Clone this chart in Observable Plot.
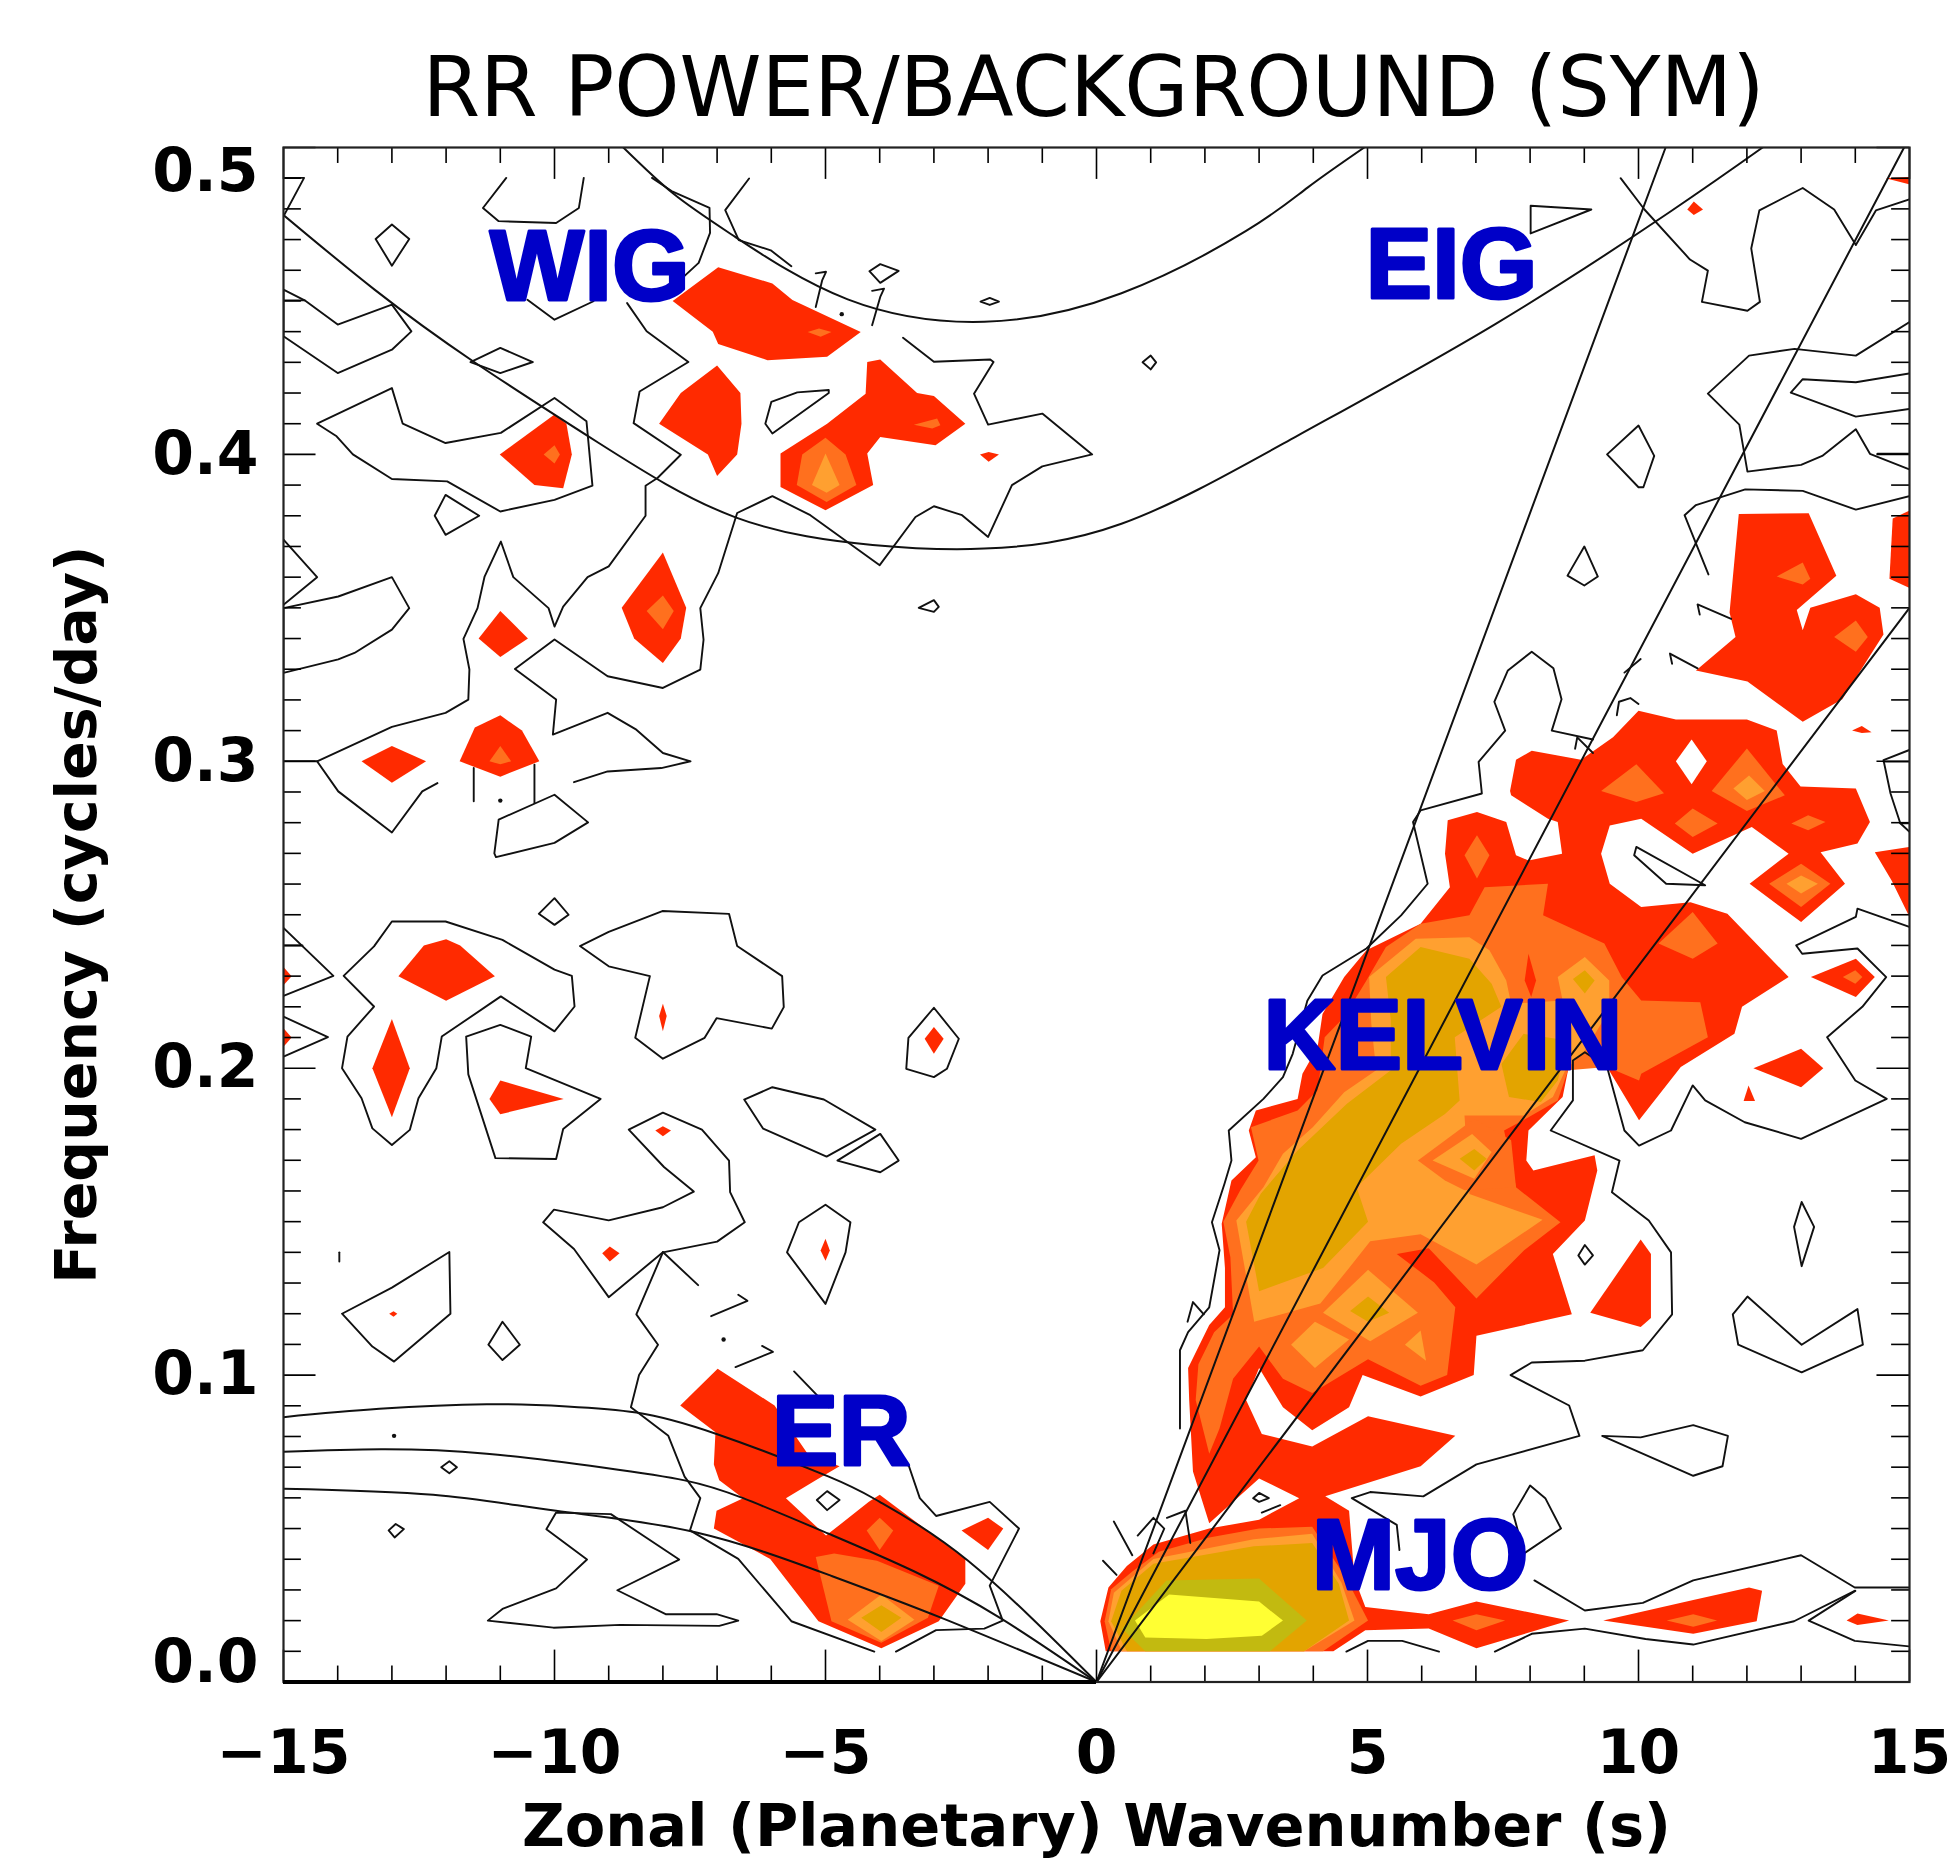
<!DOCTYPE html>
<html>
<head>
<meta charset="utf-8">
<script src="https://cdn.jsdelivr.net/npm/d3@7"></script>
<script src="https://cdn.jsdelivr.net/npm/@observablehq/plot@0.6"></script>
<style>
html,body{margin:0;padding:0;background:#fff}
#title{box-sizing:border-box;height:130px;padding-top:46px;padding-left:234px;width:1953px;text-align:center;font:400 83px/1 "DejaVu Sans";color:#000;white-space:nowrap}
svg{display:block}
</style>
</head>
<body>
<div id="title"></div>
<div id="chart"></div>
<script>
const titleText = "RR POWER/BACKGROUND (SYM)";
const xLabel = "Zonal (Planetary) Wavenumber (s)";
const yLabel = "Frequency (cycles/day)";
const xMajor = [-15,-10,-5,0,5,10,15];
const yMajor = [0,0.1,0.2,0.3,0.4,0.5];
const xMinor = d3.range(-15,16).filter(d => d % 5 !== 0);
const yMinor = d3.range(0,51).filter(d => d % 10 !== 0).map(d => d/100);

const bandLabels = [
  {t:"WIG",s:-9.35,f:0.4606},{t:"EIG",s:6.55,f:0.4614},{t:"KELVIN",s:6.39,f:0.2102},
  {t:"ER",s:-4.71,f:0.0812},{t:"MJO",s:5.97,f:0.0406}
];

const igCurves = [
 [[-15,.478],[-13.32,.4537],[-11.49,.4302],[-9.19,.4038],[-6.66,.3795],[-4.13,.3705],[-2.07,.3693],[.46,.3774],[3.68,.4058],[7.35,.4424],[10.57,.4789],[12.29,.5]],
 [[-8.73,.5],[-7.81,.485],[-6.66,.4708],[-4.59,.4505],[-2.07,.4432],[.46,.4525],[2.76,.4728],[3.9,.487],[4.94,.5]]
];
const kelvinLines = [ [[0,0],[10.5,.5]], [[0,0],[14.9,.5]], [[0,0],[15,.35]] ];
const erCurves = [
 [[-15,.0863],[-13.23,.089],[-11.25,.0905],[-9.77,.0898],[-8.49,.0878],[-7.01,.0808],[-4.94,.0669],[-4,.0587],[-2.37,.0395],[0,0]],
 [[-15,.075],[-13.2,.0758],[-11.25,.0744],[-9.08,.0698],[-7.6,.0657],[-6.52,.0599],[-4.94,.0483],[-3.36,.036],[-1.78,.0209],[0,0]],
 [[-15,.063],[-12.24,.061],[-9.97,.0558],[-7.4,.0488],[-4.94,.0349],[-2.86,.0209],[0,0]]
];

const redFill = [
 // main Kelvin / MJO body
 [[.17,.01],[.07,.0198],[.22,.0308],[.56,.0378],[1.05,.0448],[2.08,.05],[3,.0529],[3.74,.0599],[3,.0663],[2.08,.0517],[1.78,.0686],[1.71,.0919],[1.69,.1023],[2.08,.1163],[2.37,.1221],[2.37,.1349],[2.31,.1493],[2.49,.1634],[2.94,.171],[2.81,.1797],[2.94,.1862],[3.71,.19],[3.8,.1982],[4.08,.2069],[4.17,.2177],[4.57,.2297],[4.98,.2384],[5.98,.2471],[6.52,.259],[6.43,.2699],[6.48,.2808],[7.02,.2835],[7.56,.2802],[7.74,.2694],[7.97,.2677],[8.59,.2699],[8.51,.2802],[8.33,.2813],[7.65,.2889],[7.63,.2903],[7.74,.3005],[8.03,.3034],[8.94,.3005],[9.53,.3078],[10,.3165],[10.69,.3136],[12,.3136],[12.55,.31],[12.66,.2991],[12.99,.2918],[14.01,.2911],[14.27,.2802],[14.04,.2732],[13.36,.2704],[13.81,.2601],[13,.2476],[12.05,.2601],[12.77,.2699],[12.09,.2786],[11,.2699],[10.05,.2813],[9.47,.2791],[9.31,.2699],[9.47,.2601],[10.05,.2525],[10.96,.2541],[11.64,.2503],[12.77,.2297],[11.91,.22],[11.77,.2112],[10.78,.2004],[10.01,.183],[9.42,.2004],[9.01,.2052],[8.7,.1993],[8.6,.1906],[7.97,.1797],[7.93,.1699],[8.06,.1667],[9.19,.1716],[9.24,.1667],[9.01,.1504],[8.42,.1395],[8.77,.1198],[7.01,.1128],[6.96,.1],[5.98,.093],[4.91,.1],[4.66,.0895],[3.98,.082],[3.44,.0895],[3,.1023],[2.76,.0919],[3.05,.0808],[3.98,.0767],[5.01,.0866],[6.62,.0802],[5.98,.0703],[4.22,.0605],[4.66,.0558],[4.76,.0337],[4.96,.0244],[6.13,.0221],[7.01,.0262],[8.72,.02],[7.01,.011],[6.13,.0174],[4.96,.0169],[4.37,.01]],
 // WIG region
 [[-7.82,.45],[-6.98,.461],[-5.98,.4557],[-5.61,.4503],[-4.35,.4399],[-4.97,.4318],[-6.07,.4307],[-6.98,.436],[-7.08,.44]],
 [[-8.07,.41],[-7.67,.42],[-7,.429],[-6.57,.42],[-6.55,.41],[-6.63,.4],[-7,.393],[-7.17,.4]],
 [[-5.83,.3894],[-5.83,.4003],[-4.97,.41],[-4.26,.4198],[-4.23,.4301],[-3.99,.4309],[-3.31,.42],[-3,.419],[-2.42,.41],[-2.97,.403],[-3.99,.4057],[-4.23,.4003],[-4.12,.39],[-5,.3818]],
 [[-2.15,.4],[-1.99,.4008],[-1.8,.4],[-1.99,.3976]],
 [[-11.01,.4],[-10,.413],[-9.78,.41],[-9.68,.4],[-9.84,.389],[-10.37,.39]],
 [[-8,.368],[-7.57,.35],[-7.67,.34],[-8,.332],[-8.53,.34],[-8.76,.35]],
 [[-11,.349],[-10.49,.34],[-11,.334],[-11.4,.34]],
 [[-11,.315],[-10.6,.31],[-10.28,.3],[-11,.295],[-11.75,.3],[-11.47,.311]],
 [[-13.56,.3],[-13,.305],[-12.37,.3],[-13,.293]],
 [[-12.88,.23],[-12.41,.24],[-12,.242],[-11.74,.24],[-11.1,.23],[-12,.222]],
 [[-13,.216],[-12.67,.2],[-13,.184],[-13.36,.2]],
 [[-11,.196],[-9.83,.19],[-11,.185],[-11.2,.19]],
 [[-8.07,.217],[-8,.221],[-7.93,.217],[-8,.212]],
 [[-8.14,.1797],[-8,.1811],[-7.85,.1797],[-8,.1778]],
 [[-3.17,.2096],[-3,.2134],[-2.82,.2096],[-3,.2047]],
 [[-5.09,.1406],[-5,.1444],[-4.92,.1406],[-5,.1373]],
 [[-9.12,.1397],[-8.98,.1419],[-8.8,.1397],[-8.98,.137]],
 [[-13.05,.12],[-12.97,.1208],[-12.9,.12],[-12.97,.119]],
 [[-15,.233],[-14.85,.23],[-15,.227]],
 [[-15,.213],[-14.85,.21],[-15,.207]],
 // ER region
 [[-7.68,.0901],[-6.99,.1021],[-5.94,.0901],[-5.33,.0744],[-4.74,.0703],[-5.18,.0657],[-5.73,.0599],[-4.99,.0477],[-4.2,.0587],[-4,.061],[-2.42,.0401],[-2.42,.032],[-2.91,.0198],[-3.97,.011],[-5.13,.0198],[-6.02,.0401],[-7.06,.05],[-7.01,.0558],[-6.52,.0599],[-6.96,.0657],[-7.06,.0709],[-7.03,.0814]],
 [[-2.49,.0494],[-2,.0535],[-1.72,.05],[-2,.043]],
 // east of Kelvin
 [[9.11,.1203],[10.04,.1442],[10.23,.1395],[10.23,.1186],[10.04,.1157]],
 [[9.35,.02],[11.01,.0267],[12.04,.0308],[12.28,.0297],[12.18,.0198],[11.01,.0157]],
 [[13.84,.02],[14.04,.0223],[14.62,.02],[14.04,.0186]],
 [[12.12,.2],[13,.2063],[13.41,.2],[13,.1938]],
 [[12.03,.1944],[12.15,.1893],[11.94,.1893]],
 [[13.18,.2297],[14.01,.2357],[14.36,.2297],[14.01,.2232]],
 [[14.36,.2704],[15,.2721],[15,.2493],[14.67,.2612]],
 [[11.85,.3806],[13.14,.3808],[13.65,.3605],[12.92,.3493],[13.03,.3427],[13.17,.35],[14.01,.3544],[14.45,.35],[14.52,.3413],[13.76,.3202],[13.03,.3129],[12.01,.326],[11.06,.3296],[11.79,.3405],[11.68,.3485]],
 [[14.69,.3791],[15,.3817],[15,.3565],[14.63,.3595]],
 [[14.56,.49],[15,.4904],[15,.488]],
 [[10.9,.4798],[11.02,.4824],[11.19,.4798],[11.02,.478]],
 [[13.94,.31],[14.12,.3115],[14.3,.3095],[14.12,.3092]]
];
const whiteHoles = [ [[10.69,.3],[10.98,.3071],[11.26,.3],[10.98,.2925]] ];

const orangeFill = [
 [[2.08,.0744],[1.83,.0919],[1.88,.1035],[2.17,.114],[2.52,.1198],[2.47,.1384],[2.34,.15],[2.66,.1605],[2.99,.1699],[2.85,.1808],[3.71,.1862],[4.08,.1928],[4.21,.2101],[4.57,.2167],[4.98,.2286],[5.34,.2395],[5.98,.2471],[6.88,.2498],[7.16,.259],[8.33,.2601],[8.24,.2498],[9.37,.2406],[9.69,.2297],[10.05,.2221],[11.14,.2215],[11.28,.2101],[10.05,.1982],[10.01,.196],[9.42,.2004],[8.7,.1993],[8.51,.1895],[7.97,.184],[7.52,.1797],[7.74,.1612],[8.56,.1498],[7.89,.1407],[7.01,.125],[6.13,.1413],[5.54,.1395],[6.23,.1302],[6.62,.1221],[6.47,.1],[5.98,.0965],[5.01,.1052],[3.98,.0942],[3.44,.0988],[3,.1093],[2.52,.0988],[2.27,.0826]],
 [[.15,.0198],[.27,.0302],[.66,.036],[1.15,.0424],[2.08,.0471],[3,.05],[3.98,.0506],[4.61,.0337],[5.01,.02],[4.18,.01],[.27,.01]],
 [[-5.33,.4399],[-5.12,.441],[-4.89,.4399],[-5.09,.4383]],
 [[-5.53,.39],[-5.43,.4],[-5,.4054],[-4.63,.4],[-4.43,.39],[-4.98,.3845]],
 [[-3.37,.4097],[-2.94,.4117],[-2.88,.4095],[-3.03,.4084]],
 [[-10.2,.4],[-10,.403],[-9.9,.4],[-10,.397]],
 [[-8,.354],[-7.8,.349],[-8,.343],[-8.3,.349]],
 [[-11,.305],[-10.8,.3],[-11,.299],[-11.2,.3]],
 [[-5.18,.0407],[-4.84,.0419],[-4.05,.0395],[-2.91,.0314],[-3.11,.0209],[-3.97,.0128],[-4.89,.0198]],
 [[-4,.0535],[-3.75,.0494],[-4,.043],[-4.24,.0494]],
 [[6.57,.02],[7.01,.0221],[7.54,.02],[7.01,.0169]],
 [[10.52,.02],[11.01,.0221],[11.45,.02],[11.01,.018]],
 [[13.77,.2297],[14,.2319],[14.13,.2297],[14,.2275]],
 [[9.31,.2903],[9.96,.299],[10.47,.2896],[9.96,.2867]],
 [[11.35,.2903],[12,.3042],[12.7,.2889],[12,.2838]],
 [[10.67,.2797],[11,.2846],[11.46,.2797],[11,.2753]],
 [[12.82,.2797],[13.13,.2824],[13.45,.2802],[13.13,.2775]],
 [[12.41,.2601],[13,.2666],[13.54,.2601],[13,.2525]],
 [[6.79,.2694],[7.02,.2759],[7.25,.2694],[7.02,.2618]],
 [[10.37,.2406],[11,.2509],[11.46,.2406],[11,.2357]],
 [[12.55,.3602],[13.03,.3648],[13.17,.3595],[13.03,.3576]],
 [[13.61,.3405],[14.01,.3459],[14.23,.3405],[14.01,.3357]]
];
const lightFill = [
 [[2.58,.1504],[2.91,.1174],[4.13,.1233],[4.66,.1349],[5.05,.1436],[5.98,.1459],[7.01,.136],[8.23,.1506],[6.88,.159],[6.79,.1846],[7.88,.1846],[8.42,.1906],[8.65,.1993],[9.01,.2058],[9.46,.2188],[9.46,.2286],[9.01,.2362],[8.51,.2297],[8.6,.2221],[7.65,.221],[7.56,.2286],[7.25,.2384],[6.88,.2427],[5.89,.2422],[5.03,.2297],[5.07,.2145],[5.16,.1993],[4.57,.1922],[3.99,.1808],[3.44,.1721],[3.08,.1612]],
 [[.32,.0291],[1.05,.0401],[2.9,.0465],[3.98,.0483],[4.52,.0323],[4.76,.02],[3.83,.01],[.47,.01],[.22,.0198]],
 [[-5.25,.39],[-5,.4003],[-4.74,.39],[-4.98,.3875]],
 [[-4.59,.0203],[-3.97,.0285],[-3.36,.0203],[-3.97,.0134]],
 [[4.18,.1203],[5.01,.1343],[5.93,.1203],[5.05,.111]],
 [[3.59,.1099],[4.03,.1174],[4.66,.1116],[4.03,.1023]],
 [[5.69,.1099],[5.98,.1145],[6.08,.1047]],
 [[11.75,.2911],[12.04,.2954],[12.33,.2903],[12,.2874]],
 [[12.73,.2601],[13,.2628],[13.31,.2601],[13,.2569]]
];
const goldFill = [
 [[3,.1273],[2.76,.15],[3.03,.1591],[3.71,.1732],[4.62,.1884],[5.43,.1993],[5.43,.2156],[5.34,.2297],[5.98,.2395],[6.88,.2357],[7.29,.2275],[7.47,.22],[6.61,.2101],[6.7,.1895],[6.43,.1851],[5.62,.1754],[4.8,.1612],[5.01,.15],[4.18,.1349]],
 [[7.47,.2014],[7.88,.2112],[8.7,.209],[8.51,.196],[8.2,.189],[7.61,.1906]],
 [[8.79,.2291],[9.01,.2319],[9.19,.2286],[9.01,.2243]],
 [[.46,.0297],[1.05,.0385],[2.9,.0442],[3.98,.0453],[4.47,.032],[4.66,.02],[3.83,.01],[.56,.01],[.27,.0198]],
 [[-4.34,.0209],[-3.97,.025],[-3.6,.0209],[-3.97,.0163]],
 [[4.68,.1209],[5.01,.1256],[5.4,.1203],[5.01,.1174]]
];
const oliveFill = [ [[.47,.0174],[1.29,.0331],[3,.0337],[3.88,.02],[3.2,.01],[.9,.01]] ];
const yellowFill = [ [[.71,.02],[1.34,.0285],[3,.0262],[3.44,.02],[3.05,.0151],[2.03,.014],[.9,.0145]] ];
const ringOrange = [ [[5.93,.1699],[6.97,.1835],[7.65,.1765],[7.74,.1612],[6.79,.1602],[6.43,.1634]] ];
const ringLight = [ [[6.2,.1699],[6.93,.1786],[7.29,.1727],[6.97,.164]] ];
const ringGold = [ [[6.7,.1705],[6.97,.1737],[7.2,.1705],[6.97,.1667]] ];
const spikeRed = [ [[7.97,.2373],[8.11,.2286],[8.02,.2232],[7.9,.2286]] ];

const closedContours = [
 [[-13.3,.4702],[-13,.4749],[-12.68,.4702],[-13,.4615]],
 [[-15,.4537],[-14.61,.4502],[-14,.4423],[-13,.4488],[-12.64,.4401],[-13,.4341],[-14,.4265],[-15,.4385]],
 [[-11.55,.4301],[-11,.4347],[-10.4,.4301],[-11,.4265]],
 [[-14.38,.41],[-13,.4216],[-12.8,.41],[-12.01,.4037],[-10.99,.407],[-10,.4184],[-9.41,.4108],[-9.3,.3898],[-10,.3852],[-11,.3814],[-11.98,.3912],[-13,.392],[-13.72,.4],[-14.02,.4059]],
 [[-12.21,.38],[-12.01,.3868],[-11.39,.38],[-12.01,.3738]],
 [[-15,.3499],[-13.99,.3537],[-13,.36],[-12.68,.3499],[-13,.3429],[-13.69,.3353],[-13.99,.3332],[-15,.3288]],
 [[-6.11,.41],[-6,.4171],[-5.52,.4202],[-4.94,.421],[-4.94,.42],[-5.98,.4068]],
 [[-4.19,.4597],[-3.99,.462],[-3.65,.4598],[-3.99,.4559]],
 [[-2.14,.4498],[-1.97,.451],[-1.8,.4498],[-1.97,.4487]],
 [[-3.28,.35],[-3,.3525],[-2.91,.3503],[-3,.3487]],
 [[-11.03,.281],[-10,.2891],[-9.38,.2801],[-10,.2734],[-11.08,.2688],[-11.11,.27]],
 [[-10.29,.2503],[-10,.2554],[-9.74,.25],[-10,.2467]],
 [[-13.89,.2301],[-13.33,.2397],[-13,.2478],[-12.01,.2478],[-10.96,.2418],[-10,.2321],[-9.68,.2301],[-9.63,.2201],[-10,.212],[-10.99,.2234],[-12.08,.2103],[-12.18,.2],[-12.51,.1902],[-12.67,.1799],[-13,.175],[-13.36,.1804],[-13.56,.1902],[-13.92,.2],[-13.82,.2103],[-13.33,.2201]],
 [[-11.63,.2103],[-11,.2141],[-10.43,.2103],[-10.53,.2],[-9.15,.19],[-9.84,.1802],[-9.97,.1704],[-11.09,.1707],[-11.59,.198]],
 [[-9.53,.2398],[-9,.2444],[-8.01,.2512],[-6.78,.2503],[-6.63,.2398],[-5.8,.23],[-5.77,.2199],[-5.99,.2129],[-7.01,.2163],[-7.23,.2099],[-8,.2031],[-8.51,.2099],[-8.24,.23],[-9,.2332]],
 [[-8.63,.18],[-8,.1855],[-7.28,.18],[-6.78,.1699],[-6.76,.1596],[-6.49,.1498],[-7,.1435],[-8,.14],[-9,.1254],[-9.64,.1411],[-10.21,.1498],[-10.01,.1539],[-9,.1504],[-8,.1547],[-7.43,.1598],[-7.98,.1678]],
 [[-5.71,.14],[-5.49,.1498],[-5,.1555],[-4.54,.1498],[-4.63,.14],[-5,.1232]],
 [[-3.51,.1998],[-3.47,.2099],[-3,.2197],[-2.54,.2096],[-2.76,.1998],[-3,.1971]],
 [[-6.5,.1898],[-5.98,.1938],[-5.03,.1898],[-4.08,.18],[-4.98,.1712],[-6.15,.1803]],
 [[-4.78,.1699],[-3.99,.1786],[-3.65,.1699],[-3.99,.1661]],
 [[-13.92,.12],[-13,.1285],[-11.94,.1401],[-11.92,.12],[-12.96,.1044],[-13.36,.1093]],
 [[-11.22,.1099],[-10.96,.1174],[-10.64,.1099],[-10.96,.1049]],
 [[-12.09,.07],[-11.94,.0719],[-11.8,.07],[-11.94,.068]],
 [[-13.06,.0494],[-12.93,.0515],[-12.78,.0498],[-12.95,.0471]],
 [[-9.97,.0552],[-8.96,.0547],[-7.7,.0399],[-8.84,.0299],[-7.95,.0221],[-7.01,.0221],[-6.61,.02],[-6.96,.0183],[-8.79,.0186],[-10.02,.0177],[-11.23,.02],[-10.96,.0238],[-9.97,.0305],[-9.4,.0399],[-10.15,.0498]],
 [[-5.16,.0593],[-4.97,.0622],[-4.74,.0593],[-4.97,.056]],
 [[8.01,.481],[9.13,.4798],[8.01,.472]],
 [[9.42,.4],[10,.4094],[10.29,.3995],[10.09,.3893],[10,.3893]],
 [[8.69,.3605],[9,.37],[9.25,.3602],[9,.3573]],
 [[.85,.43],[1,.4322],[1.1,.43],[1,.4277]],
 [[9.96,.2721],[9.92,.2694],[10.51,.2601],[11.23,.2596]],
 [[9.33,.0802],[10.04,.0797],[11.01,.0837],[11.65,.0802],[11.55,.0703],[11.01,.0672]],
 [[2.89,.0599],[3,.0616],[3.18,.0599],[3,.0587]],
 [[11.74,.1198],[12.01,.1256],[13.01,.1099],[14.04,.1215],[14.14,.1099],[13.01,.1009],[11.84,.1099]],
 [[13.01,.1564],[13.24,.1483],[13.01,.1355],[12.87,.1483]],
 [[9.01,.1424],[9.16,.139],[9.01,.136],[8.89,.139]],
 [[7.69,.0547],[8,.064],[8.28,.0599],[8.57,.05],[7.89,.0419]]
];
const openContours = [
 [[-15,.4901],[-14.62,.4901],[-15,.4776]],
 [[-10.89,.4901],[-11.32,.4803],[-11.03,.476],[-9.97,.4754],[-9.55,.4803],[-9.46,.4901]],
 [[-15,.4502],[-14.61,.4502]],
 [[-15,.3722],[-14.38,.36],[-15,.351]],
 [[-15,.2457],[-14.08,.2301],[-15,.2236]],
 [[-15,.2168],[-14.18,.2101],[-15,.2038]],
 [[-15,.24],[-14.65,.24]],
 [[-8.2,.4901],[-7.84,.4858],[-7.14,.4803],[-7.13,.4722],[-7.34,.4624],[-7.61,.458]],
 [[-10.5,.4504],[-10,.4439],[-9.28,.4499]],
 [[-8.66,.4493],[-8.3,.4401],[-7.53,.4301],[-8.43,.4205],[-8.54,.4102],[-7.67,.3999],[-8.1,.3923],[-8.32,.3898],[-8.32,.38],[-9,.3635],[-9.39,.36],[-9.84,.3504],[-10,.3439],[-10.11,.3499],[-10.76,.36],[-10.99,.3716],[-11.29,.3602],[-11.42,.3499],[-11.68,.3399],[-11.57,.3299],[-11.59,.3201],[-12.01,.3158],[-13,.3112],[-14.38,.3],[-13.99,.2902],[-13,.2768],[-12.44,.2902],[-12.16,.2929]],
 [[-15,.3],[-14.38,.3]],
 [[-11.49,.287],[-11.49,.2978]],
 [[-10.37,.2864],[-10.37,.2989]],
 [[-6.41,.4899],[-6.85,.4796],[-6.6,.4698],[-6.01,.4665],[-5.63,.4613]],
 [[-5.18,.448],[-5.06,.4568],[-4.99,.4595],[-5.18,.459]],
 [[-4.14,.4421],[-3.99,.4513],[-3.92,.454],[-4.14,.4533]],
 [[-3.57,.438],[-3,.4302],[-1.96,.4309],[-1.9,.4301],[-2.26,.4198],[-2,.4097],[-1,.4133],[-.08,.4],[-1,.3961],[-1.56,.39],[-2,.3731],[-2.48,.3802],[-3,.3831],[-3.34,.3796],[-4,.3639],[-5.28,.3802],[-5.98,.3864],[-6.63,.3809],[-6.98,.3613],[-7.31,.3499],[-7.25,.3396],[-7.31,.3299],[-8,.3239],[-9.02,.3277],[-10,.3397],[-10.73,.3301],[-9.97,.3201],[-10.03,.3087],[-9.02,.3158],[-8.49,.3103],[-8,.3027],[-7.49,.3],[-8.03,.2978],[-9.02,.2967],[-9.64,.2932]],
 [[-8,.14],[-8.49,.1198],[-8.09,.1099],[-8.44,.1],[-8.59,.0895],[-7.9,.0802],[-7.6,.0669],[-7.31,.0599],[-7.5,.0494],[-6.61,.0401],[-5.63,.0198],[-4.1,.0099]],
 [[-3.7,.0099],[-2.96,.0169],[-2.07,.0174],[-1.73,.02],[-1.97,.0314],[-1.43,.05],[-1.97,.0587],[-2.96,.0541],[-3.26,.0599],[-3.46,.0703],[-4.05,.081]],
 [[-4.94,.0895],[-5.58,.1012]],
 [[-8,.1401],[-7.35,.1293]],
 [[-7.11,.1192],[-6.44,.1242],[-6.61,.1262]],
 [[-6.66,.1026],[-5.97,.1076],[-6.17,.1095]],
 [[-13.97,.14],[-13.97,.137]],
 // Kelvin west flank
 [[9.16,.3071],[8.4,.31],[8.58,.3202],[8.43,.3303],[8.03,.3357],[7.59,.3296],[7.34,.3194],[7.54,.31],[7.05,.2998],[7.11,.2895],[5.98,.284],[5.84,.2802],[6.11,.2601],[5.62,.2498],[4.98,.239],[4.17,.2302],[3.89,.222],[3.62,.2047],[3.44,.1971],[3.08,.19],[2.44,.1797],[2.49,.1699],[2.36,.1623],[2.13,.1498],[2.27,.1407],[2.08,.1221],[1.69,.114],[1.54,.1081],[1.54,.0826]],
 [[8.83,.3041],[8.87,.3078],[9.16,.3027]],
 [[9.6,.315],[9.64,.3194],[9.85,.3206],[10,.3187]],
 [[11.71,.3464],[11.09,.3511],[11.13,.3478]],
 [[11.09,.3303],[10.58,.3351],[10.62,.3318]],
 [[9.74,.3289],[10.04,.3333]],
 // north east
 [[11.29,.3609],[10.85,.3802],[11.06,.3835],[11.97,.3886],[13.03,.3881],[14.01,.382],[15,.3864]],
 [[15,.3951],[14.27,.4002],[14.01,.4082],[13.39,.3995],[13,.3966],[12.01,.3944],[11.86,.4097],[11.28,.4198],[12.04,.4322],[12.88,.4344],[14.01,.4322],[15,.4431]],
 [[15,.4264],[14.01,.4235],[13.03,.4245],[12.81,.4201],[14.01,.4123],[15,.4148]],
 [[14.41,.4002],[15,.4002]],
 [[9.67,.49],[10.11,.4798],[10.95,.4635],[11.28,.4599],[11.17,.4497],[12.01,.4468],[12.24,.4497],[12.08,.4671],[12.23,.4795],[13.03,.4868],[13.61,.4798],[14.01,.4682],[14.38,.4795],[15,.4831]],
 [[15,.3037],[14.52,.3004],[14.65,.2895],[14.83,.2798],[15,.277]],
 [[14.83,.2798],[15,.2798]],
 [[14.52,.2999],[15,.2999]],
 // Kelvin east flank
 [[15,.246],[14.04,.252],[14.01,.2493],[12.91,.24],[13.02,.2373],[14.04,.239],[14.57,.2297],[14.13,.22],[13.48,.2101],[14,.196],[14.58,.19],[13,.177],[11.96,.1824],[11.23,.1895],[11,.1944],[10.6,.1797],[10.01,.1748],[9.74,.1797],[9.42,.2004],[9.01,.2052],[8.79,.2025],[8.79,.1895],[8.38,.1797],[9.65,.1699],[9.51,.1596],[10.19,.1504],[10.6,.14],[10.62,.1198],[10.08,.1081],[9.01,.1047],[8.03,.1041],[7.64,.1],[8.72,.0901],[8.91,.0802],[7.01,.0709],[6.03,.0605],[5.05,.0619],[4.71,.0599],[5.54,.0512],[5.59,.043]],
 // MJO band
 [[8.08,.0331],[9.01,.0233],[10.08,.0258],[11.01,.0331],[13,.0413],[13.99,.0308],[15,.0308]],
 [[7.35,.0099],[8.03,.0157],[9.01,.0174],[10.13,.014],[11.01,.0122],[12.87,.0198],[13.99,.0297]],
 [[14,.0297],[13.14,.02],[13.99,.0134],[15,.0116]],
 [[4.61,.0099],[5.01,.0134],[5.64,.0134],[6.32,.0099]],
 [[3.05,.0552],[3.39,.0576]],
 [[.32,.0523],[.66,.0413]],
 [[.76,.0477],[1.05,.0535],[1.25,.05],[1.05,.0419]],
 [[1.3,.0535],[1.64,.0558],[1.73,.0453]],
 [[.12,.0395],[.37,.0349]],
 [[1.68,.1174],[1.78,.1238],[1.98,.1198]]
];
const contourDots = [[-11,.2872],[-4.7,.4457],[-6.88,.1116],[-12.96,.0802]];

document.getElementById("title").textContent = titleText;
function flat(polys){
  return polys.flatMap((poly,i)=>poly.map(([s,f])=>({s,f,i})));
}
function filled(polys,color){
  return Plot.line(flat(polys),{x:"s",y:"f",z:"i",fill:color,stroke:"none",curve:"linear-closed",clip:true});
}
function outlined(polys,curve,width=1.9,color="#111"){
  return Plot.line(flat(polys),{x:"s",y:"f",z:"i",stroke:color,strokeWidth:width,fill:"none",curve,clip:true,strokeLinejoin:"round"});
}
const cRed="#ff2a00",cOrange="#ff701e",cLight="#ffa030",cGold="#e3a400",cOlive="#c2ba10",cYellow="#ffff33",cBlue="#0000c8";
const tickFont={fontFamily:"DejaVu Sans",fontWeight:700};
const fmt=d3.format(".1f");

const chart=Plot.plot({
  width:1953,height:1729,
  marginLeft:283,marginRight:44,marginTop:17,marginBottom:177.5,
  style:{background:"#fff",color:"#000"},
  x:{domain:[-15,15],label:null},
  y:{domain:[0,.5],label:null},
  marks:[
    filled(redFill,cRed),
    filled(whiteHoles,"#fff"),
    filled(orangeFill,cOrange),
    filled(lightFill,cLight),
    filled(goldFill,cGold),
    filled(oliveFill,cOlive),
    filled(yellowFill,cYellow),
    filled(ringOrange,cOrange),
    filled(ringLight,cLight),
    filled(ringGold,cGold),
    filled(spikeRed,cRed),
    outlined(closedContours,"linear-closed"),
    outlined(openContours,"linear"),
    Plot.dot(contourDots,{x:d=>d[0],y:d=>d[1],r:2.2,fill:"#111"}),
    outlined(igCurves,"natural",2),
    outlined(kelvinLines,"linear",2),
    outlined(erCurves,"natural",2),
    // inward ticks on all four sides
    Plot.ruleX(xMinor,{y1:0,y2:.0052,strokeWidth:1.6}),
    Plot.ruleX(xMajor,{y1:0,y2:.0104,strokeWidth:1.6}),
    Plot.ruleX(xMinor,{y1:.5,y2:.4948,strokeWidth:1.6}),
    Plot.ruleX(xMajor,{y1:.5,y2:.4896,strokeWidth:1.6}),
    Plot.ruleY(yMinor,{x1:-15,x2:-14.67,strokeWidth:1.6}),
    Plot.ruleY(yMajor,{x1:-15,x2:-14.4,strokeWidth:1.6}),
    Plot.ruleY(yMinor,{x1:15,x2:14.67,strokeWidth:1.6}),
    Plot.ruleY(yMajor,{x1:15,x2:14.4,strokeWidth:1.6}),
    Plot.frame({stroke:"#222",strokeWidth:2.2}),
    Plot.ruleY([0],{x1:-15,x2:0,strokeWidth:4,stroke:"#000"}),
    Plot.axisX({ticks:xMajor,tickSize:0,tickPadding:48,fontSize:60,...tickFont,label:null,tickFormat:d=>d<0?"\u2212"+(-d):String(d),anchor:"bottom"}),
    Plot.axisY({ticks:[.1,.2,.3,.4],tickSize:0,tickPadding:25,fontSize:60,...tickFont,label:null,tickFormat:fmt,anchor:"left"}),
    Plot.axisY({ticks:[.5],tickSize:0,tickPadding:25,fontSize:60,...tickFont,label:null,tickFormat:fmt,anchor:"left",dy:24}),
    Plot.axisY({ticks:[0],tickSize:0,tickPadding:25,fontSize:60,...tickFont,label:null,tickFormat:fmt,anchor:"left",dy:-19}),
    Plot.text([xLabel],{frameAnchor:"bottom",dy:164,fontSize:59,...tickFont,textAnchor:"middle",fill:"#000"}),
    Plot.text([yLabel],{frameAnchor:"left",dx:-206,rotate:-90,fontSize:57,...tickFont,textAnchor:"middle",fill:"#000"}),
    Plot.text(bandLabels,{x:"s",y:"f",text:"t",fontFamily:"Liberation Sans",fontWeight:700,fontSize:100,fill:cBlue,stroke:cBlue,strokeWidth:3,textAnchor:"middle",lineAnchor:"middle"})
  ]
});
document.getElementById("chart").appendChild(chart);
</script>
</body>
</html>
